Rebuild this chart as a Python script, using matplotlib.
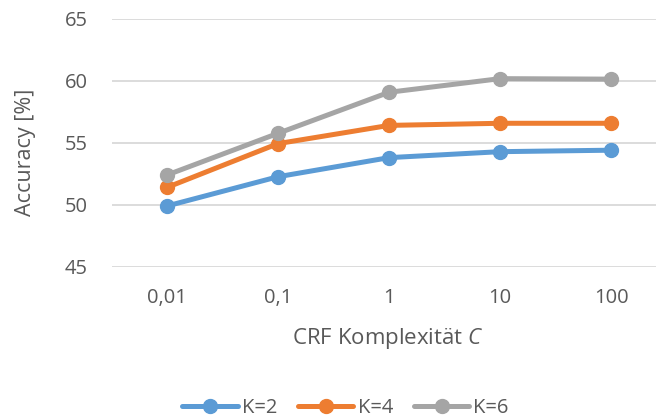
import matplotlib
matplotlib.use("Agg")
import matplotlib.pyplot as plt

categories = ["0,01", "0,1", "1", "10", "100"]
k2 = [49.92, 52.28, 53.82, 54.30, 54.42]
k4 = [51.42, 54.95, 56.42, 56.59, 56.59]
k6 = [52.42, 55.78, 59.09, 60.19, 60.15]
series_names = ["K=2", "K=4", "K=6"]
colors = ["#5B9BD5", "#ED7D31", "#A5A5A5"]
yticks = [45, 50, 55, 60, 65]

plt.rcParams['font.family'] = ['Open Sans', 'DejaVu Sans']
plt.rcParams['mathtext.fontset'] = 'custom'
plt.rcParams['mathtext.it'] = 'Open Sans:italic'
text_color = "#595959"
W, H = 656, 419

fig = plt.figure(figsize=(6.56, 4.19), dpi=100)
ax = fig.add_axes([111.5/W, 1-267/H, 555/W, (267-19)/H])
x = list(range(len(categories)))
for vals, name, c in zip([k2, k4, k6], series_names, colors):
    ax.plot(x, vals, color=c, lw=3.6, marker='o', ms=10, label=name,
            solid_capstyle='round', zorder=3)

ax.set_xlim(-0.5, len(categories) - 0.5)
ax.set_ylim(45, 65)
ax.set_yticks(yticks)
ax.set_xticks(x)
ax.set_xticklabels(categories)
ax.grid(axis='y', color='#D9D9D9', lw=1.3)
ax.set_axisbelow(True)
for s in ax.spines.values():
    s.set_visible(False)
ax.tick_params(length=0, labelsize=14.5, colors=text_color)
ax.tick_params(axis='x', pad=15)
ax.tick_params(axis='y', pad=17)

fig.text(26/W, 1-152/H, "Accuracy [%]", rotation=90, ha='center', va='center',
         fontsize=15.5, color=text_color)
fig.text(388/W, 1-338/H, "CRF Komplexität $\\mathit{C}$", ha='center', va='center',
         fontsize=16, color=text_color)

fig.legend(loc='center', bbox_to_anchor=(345.5/W, 1-408/H), ncol=3, frameon=False,
           fontsize=14.5, labelcolor=text_color, handlelength=2.75, handletextpad=0.2,
           columnspacing=1.05, borderpad=0, borderaxespad=0)

fig.savefig("out.png", dpi=100)
